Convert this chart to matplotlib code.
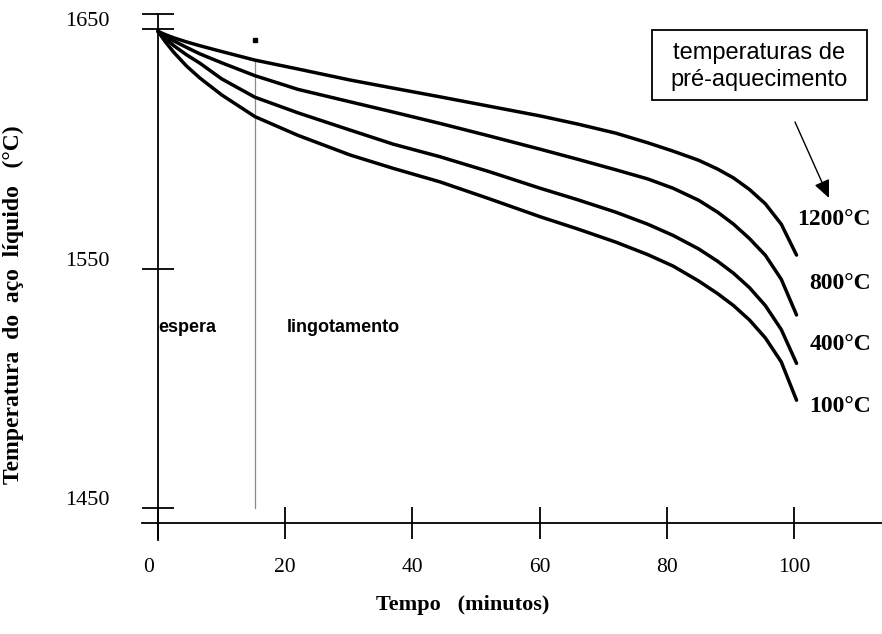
import matplotlib
matplotlib.use("Agg")
import matplotlib.pyplot as plt
from matplotlib.patches import Rectangle, FancyArrowPatch
from matplotlib.transforms import ScaledTranslation

# ---- data ----
tempo = [0, 1.2, 2.5, 4.5, 6.6, 10, 15.25, 22, 30.2, 37, 44.3, 52, 60.1, 66, 72, 77, 81, 85,
         88, 90.5, 93, 95.5, 98, 100.4]
t_1200 = [1649, 1647.6, 1646.3, 1644.6, 1643.0, 1640.6, 1637.0, 1633.3, 1628.7, 1625.3, 1621.7,
          1617.8, 1613.7, 1610.3, 1606.5, 1602.5, 1599.0, 1595.2, 1591.5, 1587.8, 1583.0, 1577.0,
          1568.5, 1555.6]
t_800 = [1649, 1647.0, 1645.0, 1642.3, 1639.6, 1635.9, 1630.5, 1624.8, 1619.6, 1615.3, 1610.6,
         1605.4, 1599.8, 1595.6, 1591.2, 1587.4, 1583.5, 1578.5, 1573.5, 1568.5, 1562.5, 1555.5,
         1545.5, 1530.6]
t_400 = [1649, 1646.0, 1643.0, 1639.2, 1635.7, 1629.2, 1621.5, 1615.0, 1607.8, 1601.9, 1596.7,
         1590.5, 1583.5, 1578.7, 1573.5, 1568.5, 1563.8, 1558.2, 1553.0, 1548.0, 1542.0, 1534.5,
         1524.5, 1510.4]
t_100 = [1649, 1644.5, 1640.2, 1634.5, 1629.5, 1622.5, 1613.4, 1605.6, 1597.4, 1591.8, 1586.2,
         1579.2, 1571.6, 1566.5, 1561.0, 1555.8, 1551.0, 1544.8, 1539.5, 1534.5, 1528.5, 1521.0,
         1511.0, 1495.0]
series = [t_1200, t_800, t_400, t_100]
curve_labels = ["1200°C", "800°C", "400°C", "100°C"]
label_y = [1570.3, 1543.9, 1518.1, 1492.3]

x_ticks = [0, 20, 40, 60, 80, 100]
y_ticks = [1450, 1550, 1650]
t_inicio_lingotamento = 15.25

SERIF = "Liberation Serif"
SANS = "Liberation Sans"

W, H = 882, 634
fig = plt.figure(figsize=(W / 100, H / 100), dpi=100)

px_left, px_right, px_top, px_bot = 142, 882, 14, 540
ax = fig.add_axes([px_left / W, 1 - px_bot / H, (px_right - px_left) / W, (px_bot - px_top) / H])

ppm = 6.36
ppd = 2.395
x0px, y1450px = 158, 508
ax.set_xlim((px_left - x0px) / ppm, (px_right - x0px) / ppm)
ylo = 1450 - (px_bot - y1450px) / ppd
yhi = 1450 + (y1450px - px_top) / ppd
ax.set_ylim(ylo, yhi)

for s in ["top", "right"]:
    ax.spines[s].set_visible(False)
ax.spines["left"].set_position(("data", 0))
ax.spines["bottom"].set_position(("data", 1450 - (523 - y1450px) / ppd))
for s in ["left", "bottom"]:
    ax.spines[s].set_linewidth(1.3)
    ax.spines[s].set_zorder(5)

ax.set_xticks(x_ticks)
ax.set_xticklabels([str(v) for v in x_ticks])
ax.set_yticks(y_ticks)
ax.set_yticklabels([str(v) for v in y_ticks])
ax.set_yticks([yhi], minor=True)
ax.tick_params(axis="both", which="both", direction="inout", length=23, width=1.3, color="black")
ax.tick_params(axis="x", pad=14, labelsize=15.5)
ax.tick_params(axis="y", pad=23, labelsize=16)
for lab in ax.get_xticklabels() + ax.get_yticklabels():
    lab.set_fontfamily(SERIF)
for lab in ax.get_yticklabels():
    lab.set_transform(lab.get_transform() + ScaledTranslation(0, 0.10, fig.dpi_scale_trans))
ax.get_xticklabels()[0].set_transform(ax.get_xticklabels()[0].get_transform()
                                      + ScaledTranslation(-0.09, 0, fig.dpi_scale_trans))

for ys in series:
    ax.plot(tempo, ys, color="black", lw=2.5, solid_capstyle="round", solid_joinstyle="round", zorder=3)

ax.plot([t_inicio_lingotamento, t_inicio_lingotamento], [1450, t_1200[6]], color="#8a8a8a", lw=0.9, zorder=2)
ax.plot([t_inicio_lingotamento], [1645.4], marker="s", color="black", ms=2.5, zorder=3)

ax.text(0, 1525.2, "espera", family=SANS, weight="bold", fontsize=13, ha="left", va="center", zorder=1)
ax.text(20.3, 1525.2, "lingotamento", family=SANS, weight="bold", fontsize=13, ha="left", va="center")

for lab, yv in zip(curve_labels, label_y):
    ax.text((871 - x0px) / ppm, yv, lab, family=SERIF, weight="bold", fontsize=17,
            ha="right", va="center")

bx0, bx1 = (652 - x0px) / ppm, (867 - x0px) / ppm
by0, by1 = 1450 + (y1450px - 100) / ppd, 1450 + (y1450px - 30) / ppd
ax.add_patch(Rectangle((bx0, by0), bx1 - bx0, by1 - by0, fill=False, lw=1.3, ec="black", zorder=4))
ax.text((bx0 + bx1) / 2, (by0 + by1) / 2 - 0.8, "temperaturas de\npré-aquecimento", family=SANS,
        fontsize=17, ha="center", va="center", linespacing=1.3)

arrow = FancyArrowPatch(((795 - x0px) / ppm, 1450 + (y1450px - 122) / ppd),
                        ((829 - x0px) / ppm, 1450 + (y1450px - 198) / ppd),
                        arrowstyle="-|>,head_length=0.9,head_width=0.4", mutation_scale=12,
                        color="black", lw=1.0, shrinkA=0, shrinkB=0)
ax.add_patch(arrow)

ax.set_ylabel("Temperatura  do  aço  líquido   (°C)", family=SERIF, weight="bold", fontsize=17)
ax.yaxis.set_label_coords((24 - px_left) / (px_right - px_left), (px_bot - 305) / (px_bot - px_top))
ax.set_xlabel("Tempo   (minutos)", family=SERIF, weight="bold", fontsize=16)
ax.xaxis.set_label_coords((463 - px_left) / (px_right - px_left), (px_bot - 595) / (px_bot - px_top))

fig.savefig("out.png", dpi=100)
